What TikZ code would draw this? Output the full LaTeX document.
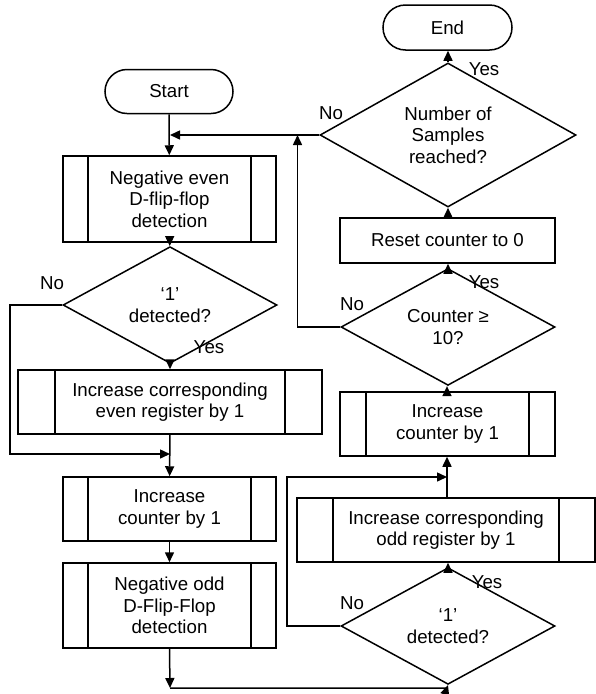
\documentclass[tikz,border=0pt]{standalone}
\usepackage{fontspec}
\setmainfont{Liberation Sans}
\usetikzlibrary{shapes.geometric,shapes.misc,arrows.meta}
\begin{document}
\begin{tikzpicture}[x=1pt,y=-1pt,
  every node/.style={font=\fontsize{18.7}{21.5}\selectfont, align=center},
  line/.style={line width=1.5pt},
  arr/.style={line width=1.5pt,-{Triangle[length=10pt,width=9pt]}},
  term/.style={draw,line width=1.5pt,rounded rectangle,minimum width=128pt,minimum height=44pt,inner sep=0pt},
  plainbox/.style={draw,line width=1.5pt,rectangle,minimum width=215pt,minimum height=45pt,inner sep=0pt},
  subproc/.style={draw,line width=1.5pt,rectangle,inner sep=0pt,
    path picture={\draw[line width=1.5pt]
      ([xshift=#1]path picture bounding box.north west) -- ([xshift=#1]path picture bounding box.south west)
      ([xshift=-#1]path picture bounding box.north east) -- ([xshift=-#1]path picture bounding box.south east);}},
  dec/.style={draw,line width=1.5pt,diamond,inner sep=0pt,minimum width=214pt,minimum height=84pt},
  lab/.style={inner sep=0pt}
]
\useasboundingbox (0,0) rectangle (596,694);

% left column
\node[term] (start) at (169,91.5) {Start};
\node[subproc=25pt,minimum width=213pt,minimum height=86pt] (negeven) at (169.5,199) {Negative even\\D-flip-flop\\detection};
\node[dec] (d1) at (170,305) {‘1’\\detected?};
\node[subproc=37pt,minimum width=304pt,minimum height=64pt] (inceven) at (170,402) {Increase corresponding\\even register by 1};
\node[subproc=25pt,minimum width=213pt,minimum height=64pt] (incl) at (169.5,509) {Increase\\counter by 1};
\node[subproc=25pt,minimum width=213pt,minimum height=85pt] (negodd) at (169.5,605.5) {Negative odd\\D-Flip-Flop\\detection};

% right column
\node[dec] (d2) at (448,626) {‘1’\\detected?};
\node[subproc=36pt,minimum width=298pt,minimum height=64pt] (incodd) at (446,530) {Increase corresponding\\odd register by 1};
\node[subproc=26pt,minimum width=215pt,minimum height=64pt] (incr) at (447.5,424) {Increase\\counter by 1};
\node[dec] (d3) at (448,327) {Counter ≥\\10?};
\node[plainbox] (reset) at (447.5,240.5) {Reset counter to 0};
\node[dec,minimum width=256pt,minimum height=128pt] (d4) at (448,135) {Number of\\Samples\\reached?};
\node[term,minimum width=129pt,minimum height=45pt] (end) at (447.5,27.5) {End};

% labels
\node[lab] (no1) at (52,283) {No};
\node[lab] (yes1) at (209,347) {Yes};
\node[lab] (no2) at (352,603) {No};
\node[lab] (yes2) at (487,582) {Yes};
\node[lab] (no3) at (352,304) {No};
\node[lab] (yes3) at (484,282) {Yes};
\node[lab] (no4) at (331,113) {No};
\node[lab] (yes4) at (484,69) {Yes};

% coordinates
\coordinate (m4) at (170,135);
\coordinate (m3) at (297.5,135);
\coordinate (m1) at (170,454);
\coordinate (b1) at (170,688);
\coordinate (m2) at (447,477);

% connectors left
\draw[arr] (start) -- (negeven);
\draw[arr] (negeven) -- (d1);
\draw[arr] (d1) -- (inceven);
\draw[arr] (d1.west) -- (10,305) -- (10,454) -- (m1);
\draw[arr] (inceven) -- (incl);
\draw[arr] (incl) -- (negodd);
\draw[arr] (negodd.south) -- (b1);
\draw[arr] (b1) -- (447,688) -- (d2.south);

% connectors right
\draw[arr] (d2.north) -- (d2.north |- incodd.south);
\draw[arr] (d2.west) -- (287,626) -- (287,477) -- (m2);
\draw[arr] (incodd.north -| m2) -- (incr.south -| m2);
\draw[arr] (incr.north -| m2) -- (d3.south -| m2);
\draw[arr] (d3.north) -- (d3.north |- reset.south);
\draw[arr] (d3.west) -- (297.5,327) -- (m3);
\draw[arr] (reset.north -| d4.south) -- (d4.south);
\draw[arr] (d4.north) -- (d4.north |- end.south);
\draw[arr] (d4.west) -- (m4);
\end{tikzpicture}
\end{document}
